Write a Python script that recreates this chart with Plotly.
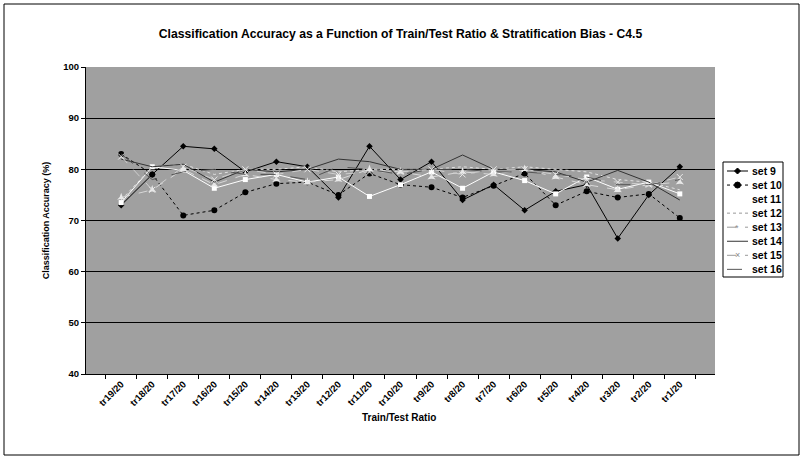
import plotly.graph_objects as go

categories = ["tr19/20", "tr18/20", "tr17/20", "tr16/20", "tr15/20", "tr14/20", "tr13/20",
              "tr12/20", "tr11/20", "tr10/20", "tr9/20", "tr8/20", "tr7/20", "tr6/20",
              "tr5/20", "tr4/20", "tr3/20", "tr2/20", "tr1/20"]

set9 = [73, 79, 84.5, 84, 79.5, 81.5, 80.5, 74.5, 84.5, 78, 81.5, 74, 77, 72, 75.7, 77, 66.5, 75, 80.5]
set10 = [83, 79, 71, 72, 75.5, 77.2, 77.5, 75, 79.2, 77, 76.5, 74.5, 76.8, 79.2, 73, 75.7, 74.5, 75.2, 70.5]
set11 = [73.5, 80.5, 79.8, 76.3, 78, 79, 77.5, 78.5, 74.7, 77, 79.5, 76.3, 79.5, 77.8, 75.2, 78.5, 76.1, 77.5, 75.2]
set12 = [74, 80.5, 81, 79, 80, 80, 80.5, 79.5, 80, 80, 80, 80.5, 80, 80.5, 80, 79.5, 78, 77.5, 76]
set13 = [74.5, 76, 80, 77, 79, 78, 77.5, 78, 80, 79.5, 78.5, 79.5, 79, 80, 78.5, 77, 76, 77, 77.5]
set14 = [82, 80.5, 81, 77.5, 80, 79.5, 80, 82, 81.5, 80, 80, 82.8, 80, 80, 79.5, 77.5, 79.8, 77.5, 74]
set15 = [82.5, 76, 80.5, 78, 80, 79, 80, 79, 79.5, 79.5, 80, 79, 80, 80, 79, 78, 77.5, 77, 78.5]
set16 = [83, 78, 79.5, 80, 79, 79, 78, 80.5, 80, 79, 80, 80, 79.5, 79.5, 79, 78.5, 77, 77, 78]

series_names = ["set 9", "set 10", "set 11", "set 12", "set 13", "set 14", "set 15", "set 16"]
y_ticks = [40, 50, 60, 70, 80, 90, 100]

styles = [
    (dict(color="black", width=1, dash="solid"), dict(symbol="diamond", size=5, color="black")),
    (dict(color="black", width=1, dash="dot"), dict(symbol="circle", size=6, color="black")),
    (dict(color="white", width=1, dash="solid"), dict(symbol="square", size=5, color="white")),
    (dict(color="#e0e0e0", width=1, dash="dot"), None),
    (dict(color="#d8d8d8", width=1, dash="dash"), dict(symbol="star-triangle-up", size=6, color="#e8e8e8")),
    (dict(color="#333333", width=1, dash="solid"), None),
    (dict(color="#cfcfcf", width=1, dash="dash"), dict(symbol="x-thin", size=6, color="#e8e8e8", line=dict(width=1, color="#e8e8e8"))),
    (dict(color="#555555", width=1, dash="longdash"), None),
]
all_values = [set9, set10, set11, set12, set13, set14, set15, set16]

W, H = 804, 461
L, R, T, B = 86, 715, 67, 374


def px(xp):
    return (xp - L) / (R - L)


def py(yp):
    return (B - yp) / (B - T)


font_family = "Liberation Sans, Arial, sans-serif"

fig = go.Figure()
for name, vals, (line, marker) in zip(series_names, all_values, styles):
    fig.add_trace(go.Scatter(
        x=categories, y=vals, name=name,
        mode="lines+markers" if marker else "lines",
        line=line, marker=marker if marker else None,
        showlegend=False,
    ))

fig.update_layout(
    width=W, height=H,
    paper_bgcolor="white",
    plot_bgcolor="#a0a0a0",
    margin=dict(l=L, r=W - R, t=T, b=H - B, autoexpand=False),
    font=dict(family=font_family, size=9, color="black"),
    title=dict(
        text="<b>Classification Accuracy as a Function of Train/Test Ratio & Stratification Bias - C4.5</b>",
        x=0.5, xanchor="center", xref="paper", y=1 - 34 / H, yanchor="middle",
        font=dict(size=12.2, family=font_family, color="black"),
    ),
    showlegend=False,
)

fig.update_xaxes(
    type="category",
    automargin=False,
    tickangle=-45,
    tickson="boundaries",
    tickfont=dict(size=9.5, family=font_family, color="black", weight="bold"),
    showline=True, linecolor="black", linewidth=1,
    showgrid=False,
    ticks="outside", ticklen=4, tickcolor="black",
)
fig.update_yaxes(
    range=[40, 100],
    automargin=False,
    tickvals=y_ticks,
    tickfont=dict(size=9.5, family=font_family, color="black", weight="bold"),
    showline=True, linecolor="black", linewidth=1,
    showgrid=True, gridcolor="black", gridwidth=1,
    ticks="outside", ticklen=4, tickcolor="black",
    zeroline=False,
    title=dict(text="<b>Classification Accuracy (%)</b>", font=dict(size=9, family=font_family, color="black"), standoff=12),
)

shapes = []
annotations = []

# outer chart border
shapes.append(dict(type="rect", xref="paper", yref="paper",
                   x0=px(4), x1=px(799), y0=py(455), y1=py(4),
                   line=dict(color="black", width=1), fillcolor="rgba(0,0,0,0)", layer="below"))

# x-axis title positioned like the reference
annotations.append(dict(text="<b>Train/Test Ratio</b>", xref="paper", yref="paper",
                        x=px(399), y=py(417), showarrow=False, xanchor="center", yanchor="middle",
                        font=dict(size=10, family=font_family, color="black")))

# legend box (drawn manually for compact Excel-like spacing)
shapes.append(dict(type="rect", xref="paper", yref="paper",
                   x0=px(723), x1=px(783), y0=py(277), y1=py(162),
                   line=dict(color="black", width=1), fillcolor="white", layer="above"))
for i, (name, (line, marker)) in enumerate(zip(series_names, styles)):
    yc = 171 + 14.05 * i
    shapes.append(dict(type="line", xref="paper", yref="paper",
                       x0=px(727), x1=px(748), y0=py(yc), y1=py(yc),
                       line=dict(color="#999999" if line["color"] in ("#e0e0e0", "#d8d8d8", "#cfcfcf") else line["color"],
                                 width=1, dash=line["dash"]), layer="above"))
    annotations.append(dict(text="<b>" + name + "</b>", xref="paper", yref="paper",
                            x=px(750), y=py(yc), showarrow=False, xanchor="left", yanchor="middle",
                            font=dict(size=10.5, family=font_family, color="black")))
    if marker:
        sym = marker["symbol"]
        cx, cy = 737.5, yc
        if sym == "diamond":
            shapes.append(dict(type="path", xref="paper", yref="paper",
                               path=f"M {px(cx-3)} {py(cy)} L {px(cx)} {py(cy-3)} L {px(cx+3)} {py(cy)} L {px(cx)} {py(cy+3)} Z",
                               fillcolor="black", line=dict(color="black", width=1), layer="above"))
        elif sym == "circle":
            shapes.append(dict(type="circle", xref="paper", yref="paper",
                               x0=px(cx-3), x1=px(cx+3), y0=py(cy+3), y1=py(cy-3),
                               fillcolor="black", line=dict(color="black", width=1), layer="above"))
        elif sym == "star-triangle-up":
            annotations.append(dict(text="*", xref="paper", yref="paper", x=px(cx), y=py(cy + 1),
                                    showarrow=False, xanchor="center", yanchor="middle",
                                    font=dict(size=9, family=font_family, color="#888888")))
        elif sym == "x-thin":
            annotations.append(dict(text="×", xref="paper", yref="paper", x=px(cx), y=py(cy),
                                    showarrow=False, xanchor="center", yanchor="middle",
                                    font=dict(size=9, family=font_family, color="#888888")))

fig.update_layout(shapes=shapes, annotations=annotations)

fig.write_html("out.html", config={"displayModeBar": False},
               post_script="document.body.style.margin='0';document.body.style.padding='0';")
